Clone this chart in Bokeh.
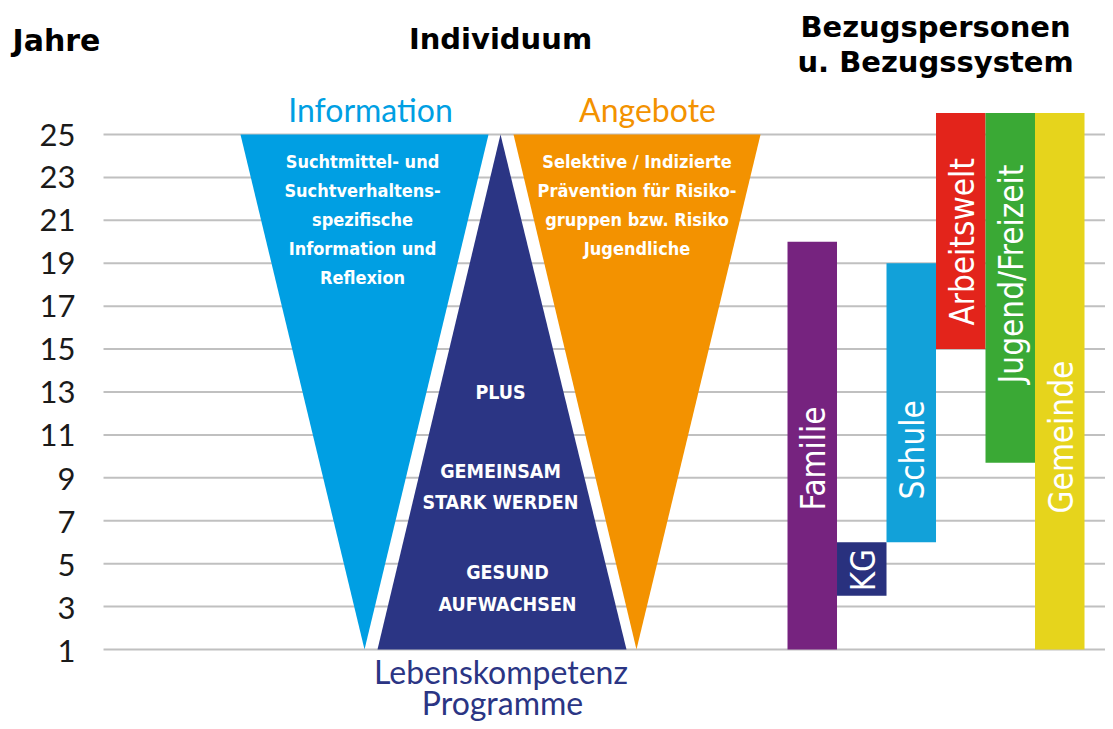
import math
from bokeh.plotting import figure
from bokeh.models import Range1d
from bokeh.core.properties import value
from bokeh.embed import file_html
from bokeh.resources import INLINE

# ---------------- data ----------------
age_ticks = [1, 3, 5, 7, 9, 11, 13, 15, 17, 19, 21, 23, 25]
age_tick_labels = [str(a).rjust(2).replace(" ", "\u2007") for a in age_ticks]

# Bezugspersonen / Bezugssystem: age span per system
systems = ["Familie", "KG", "Schule", "Arbeitswelt", "Jugend/Freizeit", "Gemeinde"]
system_age_from = [1, 3.5, 6, 15, 9.7, 1]
system_age_to = [20, 6, 19, 26, 26, 26]
system_colors = ["#76237f", "#29317e", "#12a1d9", "#e3241b", "#3aa935", "#e6d41c"]

# Individuum: three panels spanning ages 1..25
panel_age_top = 25
panel_age_bottom = 1
panel_titles = ["Information", "Angebote"]
panel_colors = ["#009fe3", "#2b3584", "#f39200"]  # Information, Lebenskompetenz, Angebote

info_lines = ["Suchtmittel- und", "Suchtverhaltens-", "spezifische", "Information und", "Reflexion"]
offer_lines = ["Selektive / Indizierte", "Prävention für Risiko-", "gruppen bzw. Risiko", "Jugendliche"]
life_lines = ["PLUS", "GEMEINSAM", "STARK WERDEN", "GESUND", "AUFWACHSEN"]

# ---------------- layout (x in bar-column units, y in years) ----------------
X_START, X_END = -15.899, 6.424
Y_START, Y_END = -2.355, 31.245
GRID_X0 = -13.818
TICK_X = -15.11

# triangle geometry (x positions)
info_x = [-11.051, -6.040, -8.545]
life_x = [-5.798, -8.283, -3.253]
offer_x = [-5.535, -0.545, -3.051]

narrow = value("DejaVu Sans Condensed")
lato = value("Lato")
bold_font = value("DejaVu Sans")

p = figure(width=1105, height=721, x_range=Range1d(X_START, X_END),
           y_range=Range1d(Y_START, Y_END), toolbar_location=None,
           output_backend="svg", min_border=0, outline_line_color=None,
           x_axis_location=None, y_axis_location=None)
p.grid.grid_line_color = None
p.background_fill_color = "white"
p.border_fill_color = "white"

# grid lines per tick
p.segment(x0=[GRID_X0] * len(age_ticks), x1=[X_END] * len(age_ticks),
          y0=age_ticks, y1=age_ticks, line_color="#c0c0c0", line_width=2)

# tick labels
p.text(x=[TICK_X] * len(age_ticks), y=age_ticks, text=age_tick_labels,
       text_align="left", text_baseline="middle", text_font=lato,
       text_font_size="31px", text_color="#1a1a1a")

# panels (triangles)
tri_y_down = [panel_age_top, panel_age_top, panel_age_bottom]
tri_y_up = [panel_age_top, panel_age_bottom, panel_age_bottom]
p.patches(xs=[info_x, life_x, offer_x], ys=[tri_y_down, tri_y_up, tri_y_down],
          fill_color=panel_colors, line_color=None)

# bars
idx = list(range(len(systems)))
p.quad(left=idx, right=[i + 1 for i in idx], bottom=system_age_from, top=system_age_to,
       fill_color=system_colors, line_color=None)

label_y = [9.9, 4.7, 10.3, 20.0, 18.5, 10.9]
p.text(x=[i + 0.53 for i in idx], y=label_y, text=systems, angle=math.pi / 2,
       text_align="center", text_baseline="middle", text_font=narrow,
       text_font_size="33px", text_color="white")

# texts in panels
line_step = 1.3515
p.text(x=[-8.586] * len(info_lines), y=[23.74 - i * line_step for i in range(len(info_lines))],
       text=info_lines, text_align="center", text_baseline="middle", text_font=narrow,
       text_font_style="bold", text_font_size="18px", text_color="white")
p.text(x=[-3.040] * len(offer_lines), y=[23.74 - i * line_step for i in range(len(offer_lines))],
       text=offer_lines, text_align="center", text_baseline="middle", text_font=narrow,
       text_font_style="bold", text_font_size="18px", text_color="white")
p.text(x=[-5.798, -5.798, -5.798, -5.657, -5.657], y=[12.98, 9.30, 7.83, 4.60, 3.10],
       text=life_lines, text_align="center", text_baseline="middle", text_font=narrow,
       text_font_style="bold", text_font_size="19.5px", text_color="white")

# panel titles
p.text(x=[-8.424, -2.828], y=[26.17, 26.17], text=panel_titles,
       text_color=[panel_colors[0], panel_colors[2]], text_align="center",
       text_baseline="middle", text_font=lato, text_font_size="32px")
p.text(x=[-5.788, -5.758], y=[-0.025, -1.45], text=["Lebenskompetenz", "Programme"],
       text_color=panel_colors[1], text_align="center", text_baseline="middle",
       text_font=lato, text_font_size="32px")

# headers
p.text(x=[-15.657], y=[29.38], text=["Jahre"], text_align="left", text_baseline="middle",
       text_font=bold_font, text_font_style="bold", text_font_size="30px", text_color="black")
p.text(x=[-5.798], y=[29.43], text=["Individuum"], text_align="center", text_baseline="middle",
       text_font=bold_font, text_font_style="bold", text_font_size="29px", text_color="black")
p.text(x=[2.99, 2.99], y=[29.99, 28.40], text=["Bezugspersonen", "u. Bezugssystem"],
       text_align="center", text_baseline="middle", text_font=bold_font,
       text_font_style="bold", text_font_size="29px", text_color="black")

open("out.html", "w").write(file_html(p, INLINE))
